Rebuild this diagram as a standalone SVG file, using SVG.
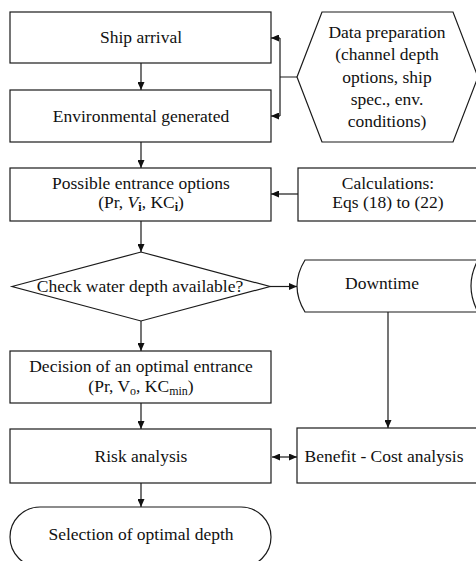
<svg xmlns="http://www.w3.org/2000/svg" width="476" height="561" viewBox="0 0 476 561">
<style>
.s{fill:#fff;stroke:#1a1a1a;stroke-width:1.2}
.c{fill:none;stroke:#1a1a1a;stroke-width:1.2}
.t{font-family:"Liberation Serif","Times New Roman",serif;font-size:17.5px;fill:#111;text-anchor:middle}
.sub{font-size:12px}
</style>
<defs>
<marker id="a" markerWidth="8" markerHeight="7" refX="8" refY="3.5" orient="auto" markerUnits="userSpaceOnUse">
<path d="M0,0 L8,3.5 L0,7 Z" fill="#111"/>
</marker>
<marker id="as" markerWidth="8" markerHeight="7" refX="0" refY="3.5" orient="auto" markerUnits="userSpaceOnUse">
<path d="M8,0 L0,3.5 L8,7 Z" fill="#111"/>
</marker>
</defs>
<rect width="476" height="561" fill="#fff"/>
<g id="connectors">
<path class="c" d="M141,63 V90" marker-end="url(#a)"/>
<path class="c" d="M141,142 V168" marker-end="url(#a)"/>
<path class="c" d="M297,77 H280 M280,38 V116"/>
<path class="c" d="M280,38 H271" marker-end="url(#a)"/>
<path class="c" d="M280,116 H271" marker-end="url(#a)"/>
<path class="c" d="M298,194 H271" marker-end="url(#a)"/>
<path class="c" d="M141,221 V252" marker-end="url(#a)"/>
<path class="c" d="M270,286.5 H297" marker-end="url(#a)"/>
<path class="c" d="M141,321 V351" marker-end="url(#a)"/>
<path class="c" d="M141,403 V429" marker-end="url(#a)"/>
<path class="c" d="M388,312 V428" marker-end="url(#a)"/>
<path class="c" d="M272,457 H297" marker-start="url(#as)" marker-end="url(#a)"/>
<path class="c" d="M141,483 V507" marker-end="url(#a)"/>
</g>
<g id="ship-arrival">
<rect class="s" x="10" y="12" width="261" height="51"/>
<text class="t" x="141" y="43">Ship arrival</text>
</g>
<g id="environmental">
<rect class="s" x="10" y="90" width="261" height="52"/>
<text class="t" x="141" y="122">Environmental generated</text>
</g>
<g id="data-preparation">
<path class="s" d="M297,77 L322,12 L453,12 L478,77 L453,142 L322,142 Z"/>
<text class="t" x="387" y="38">Data preparation</text>
<text class="t" x="387" y="60">(channel depth</text>
<text class="t" x="387" y="83">options, ship</text>
<text class="t" x="387" y="105">spec., env.</text>
<text class="t" x="387" y="127">conditions)</text>
</g>
<g id="possible-entrance">
<rect class="s" x="10" y="168" width="261" height="53"/>
<text class="t" x="141" y="189">Possible entrance options</text>
<text class="t" x="141" y="208">(Pr, <tspan font-style="italic">V</tspan><tspan class="sub" font-weight="bold" dy="3">i</tspan><tspan dy="-3">, KC</tspan><tspan class="sub" font-weight="bold" dy="3">i</tspan><tspan dy="-3">)</tspan></text>
</g>
<g id="calculations">
<rect class="s" x="298" y="168" width="182" height="53"/>
<text class="t" x="388" y="189">Calculations:</text>
<text class="t" x="388" y="208">Eqs (18) to (22)</text>
</g>
<g id="check-depth">
<path class="s" d="M12,286.5 L141,252 L270,286.5 L141,321 Z"/>
<text class="t" x="140" y="292">Check water depth available?</text>
</g>
<g id="downtime">
<path class="s" d="M305,260 L478,260 Q464,286 478,312 L305,312 Q289,286 305,260 Z"/>
<text class="t" x="382" y="289">Downtime</text>
</g>
<g id="decision">
<rect class="s" x="10" y="351" width="261" height="52"/>
<text class="t" x="141" y="372">Decision of an optimal entrance</text>
<text class="t" x="141" y="392">(Pr, V<tspan class="sub" dy="3">o</tspan><tspan dy="-3">, KC</tspan><tspan class="sub" dy="3">min</tspan><tspan dy="-3">)</tspan></text>
</g>
<g id="risk-analysis">
<rect class="s" x="10" y="429" width="261" height="54"/>
<text class="t" x="141" y="462">Risk analysis</text>
</g>
<g id="benefit-cost">
<rect class="s" x="297" y="428" width="183" height="55"/>
<text class="t" x="384" y="462">Benefit - Cost analysis</text>
</g>
<g id="selection">
<path class="s" d="M40,507 H241 A30,30 0 0 1 241,567 H40 A30,30 0 0 1 40,507 Z"/>
<text class="t" x="141" y="540">Selection of optimal depth</text>
</g>
</svg>
